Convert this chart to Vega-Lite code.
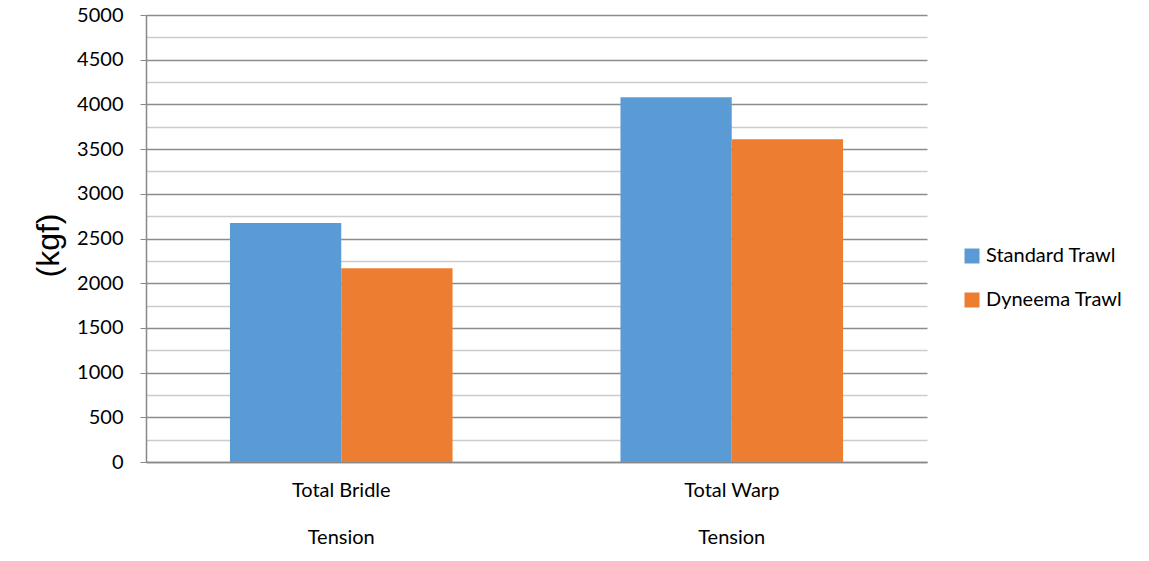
{
  "$schema": "https://vega.github.io/schema/vega-lite/v6.json",
  "autosize": "none",
  "width": 781,
  "height": 447,
  "padding": {"left": 146, "top": 15, "right": 222, "bottom": 99},
  "background": "white",
  "config": {
    "font": "Lato",
    "view": {"stroke": null}
  },
  "data": {
    "values": [
      {"category": "Total Bridle|Tension", "series": "Standard Trawl", "value": 2672},
      {"category": "Total Bridle|Tension", "series": "Dyneema Trawl", "value": 2166},
      {"category": "Total Warp|Tension", "series": "Standard Trawl", "value": 4080},
      {"category": "Total Warp|Tension", "series": "Dyneema Trawl", "value": 3610}
    ]
  },
  "mark": {"type": "bar"},
  "encoding": {
    "x": {
      "field": "category",
      "type": "nominal",
      "sort": null,
      "scale": {"paddingInner": 0.43, "paddingOuter": 0.215},
      "axis": {
        "title": null,
        "labelAngle": 0,
        "labelExpr": "split(datum.label, '|')",
        "labelLineHeight": 47,
        "labelFontSize": 20,
        "labelColor": "#000000",
        "labelPadding": 18,
        "ticks": false,
        "domainColor": "#888888",
        "domainWidth": 1.5
      }
    },
    "xOffset": {"field": "series", "type": "nominal", "sort": ["Standard Trawl", "Dyneema Trawl"]},
    "y": {
      "field": "value",
      "type": "quantitative",
      "scale": {"domain": [0, 5000], "nice": false},
      "axis": {
        "title": "(kgf)",
        "titleFont": "Liberation Sans",
        "titleFontSize": 32,
        "titleFontWeight": "normal",
        "titleColor": "#000000",
        "titleAngle": -90,
        "titleX": -98,
        "titleY": 230,
        "titleAlign": "center",
        "titleBaseline": "middle",
        "values": [0, 250, 500, 750, 1000, 1250, 1500, 1750, 2000, 2250, 2500, 2750, 3000, 3250, 3500, 3750, 4000, 4250, 4500, 4750, 5000],
        "labelExpr": "datum.value % 500 === 0 ? datum.value : ''",
        "labelFontSize": 20,
        "labelColor": "#000000",
        "labelPadding": 17,
        "tickSize": 6,
        "tickColor": {"condition": {"test": "datum.value % 500 === 0", "value": "#888888"}, "value": "transparent"},
        "grid": true,
        "gridColor": {"condition": {"test": "datum.value % 500 === 0", "value": "#8c8c8c"}, "value": "#cccccc"},
        "gridWidth": 1.5,
        "domainColor": "#888888",
        "domainWidth": 1.5
      }
    },
    "color": {
      "field": "series",
      "type": "nominal",
      "sort": ["Standard Trawl", "Dyneema Trawl"],
      "scale": {"domain": ["Standard Trawl", "Dyneema Trawl"], "range": ["#5B9BD5", "#ED7D31"]},
      "legend": {
        "title": null,
        "orient": "none",
        "legendX": 816,
        "legendY": 231,
        "symbolType": "square",
        "symbolSize": 225,
        "symbolStrokeWidth": 0,
        "labelFontSize": 20,
        "labelColor": "#000000",
        "labelOffset": 4,
        "rowPadding": 24
      }
    }
  }
}
